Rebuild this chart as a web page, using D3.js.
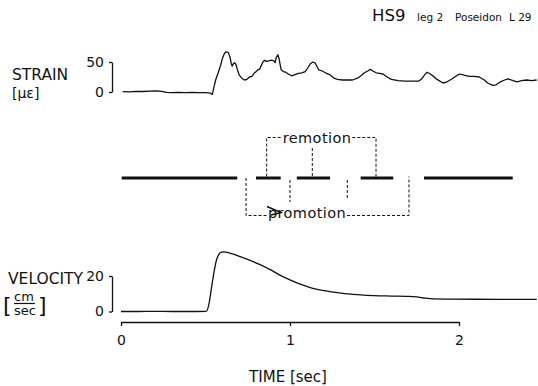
<!DOCTYPE html>
<html><head><meta charset="utf-8">
<script src="https://cdn.jsdelivr.net/npm/d3@7"></script>
<style>
body{margin:0;background:#fff}
svg{display:block}
text{font-family:"DejaVu Sans",sans-serif;fill:#111}
</style>
</head><body>
<svg id="c" width="538" height="386"></svg>
<script>
// ---- data ----
const strainT=[0.01,0.05,0.09,0.13,0.17,0.21,0.24,0.27,0.30,0.34,0.38,0.42,0.46,0.50,0.53,0.54,0.55,0.56,0.575,0.59,0.60,0.61,0.62,0.635,0.645,0.652,0.658,0.665,0.672,0.68,0.688,0.70,0.715,0.73,0.745,0.76,0.775,0.79,0.80,0.81,0.82,0.83,0.84,0.85,0.86,0.875,0.89,0.905,0.912,0.918,0.928,0.936,0.942,0.948,0.96,0.975,0.99,1.01,1.03,1.05,1.07,1.09,1.105,1.12,1.135,1.15,1.16,1.17,1.19,1.21,1.235,1.26,1.28,1.31,1.34,1.37,1.40,1.42,1.44,1.46,1.475,1.49,1.51,1.53,1.55,1.575,1.60,1.64,1.68,1.72,1.76,1.78,1.80,1.812,1.83,1.85,1.87,1.905,1.93,1.96,1.99,2.006,2.03,2.06,2.09,2.12,2.15,2.17,2.20,2.22,2.245,2.27,2.29,2.32,2.345,2.37,2.40,2.43,2.46];
const strainV=[0.5,0.3,1,0.8,1.5,1.8,1,-0.5,-1,-0.5,-1,-0.8,-1.2,-1,-2,-4,8,20,32,45,56,63,67,66,58,48,43,47,49,46,38,28,23,20,21,25,26,32,34,37,38,44,50,53,51,52,53,52,49,57,62,55,45,37,34,33,30,27,29,31,32,34,40,47,50,48,42,37,35,32,29,23,21,20,20,20,23,27,32,35,38,35,32,31,30,25,21,19,18,18,18,22,30,33,30,26,21,15,17,22,28,30,28,26,26,25,20,15,11,12,17,20,22,19,17,19,20,19,20];
const velT=[0,0.1,0.2,0.3,0.4,0.5,0.507,0.52,0.535,0.55,0.565,0.58,0.595,0.61,0.63,0.66,0.70,0.76,0.82,0.88,0.94,1.0,1.06,1.12,1.2,1.3,1.4,1.5,1.6,1.7,1.75,1.8,1.85,1.95,2.1,2.3,2.46];
const velV=[0,0,0.1,0,0,0.1,0.3,4,13,22,29,32.3,33.4,33.6,33.3,32.4,31,29,26.5,23.7,20.5,17.8,15.4,13.5,11.8,10.4,9.5,8.9,8.7,8.5,8.2,7.5,7.1,7,6.9,6.8,6.8];
const timeTicks=[0,1,2];
const strainTicks=[0,50];
const velTicks=[0,20];
const gaitStart=[0.004,0.799,1.040,1.418,1.793];
const gaitEnd=[0.688,0.945,1.237,1.611,2.318];
const remotionMarks=[0.862,1.132,1.509];
const promotionMarks=[0.740,1.0,1.339,1.704];

// ---- scales ----
const svg=d3.select("#c");
const x=d3.scaleLinear().domain([0,2]).range([121,459]);
const yS=d3.scaleLinear().domain([0,50]).range([92,62]);
const yV=d3.scaleLinear().domain([0,20]).range([311.5,276]);
const ink="#111";

// title
const title=[["HS9",372,16.5],["leg 2",417,10.5],["Poseidon",455,10.5],["L 29",509,10.5]];
title.forEach(d=>svg.append("text").attr("x",d[1]).attr("y",21).attr("font-size",d[2]).text(d[0]));

// strain
svg.append("text").attr("x",12).attr("y",80).attr("font-size",15.5).text("STRAIN");
svg.append("text").attr("x",12).attr("y",97.5).attr("font-size",14).text("[µε]");
const gS=svg.append("g").attr("transform","translate(112,0)")
  .call(d3.axisLeft(yS).tickValues(strainTicks).tickSize(3).tickSizeOuter(0).tickPadding(5));
const strainData=strainT.map((t,i)=>[t,strainV[i]]);
svg.append("path").datum(strainData)
  .attr("d",d3.line().x(d=>x(d[0])).y(d=>yS(d[1])))
  .attr("fill","none").attr("stroke",ink).attr("stroke-width",1.3).attr("stroke-linejoin","round");

// gait diagram
const yG=178;
svg.selectAll("line.bar").data(gaitStart).join("line").attr("class","bar")
  .attr("x1",d=>x(d)).attr("x2",(d,i)=>x(gaitEnd[i])).attr("y1",yG).attr("y2",yG)
  .attr("stroke",ink).attr("stroke-width",3);
const dash=sel=>sel.attr("fill","none").attr("stroke",ink).attr("stroke-width",1).attr("stroke-dasharray","3,2");

const yR=137.5;
const rem=svg.append("text").attr("x",317).attr("y",143).attr("font-size",14.5).attr("letter-spacing",0.4)
  .attr("text-anchor","middle").text("remotion");
const rw=rem.node().getComputedTextLength();
const r0=317-rw/2, r1=317+rw/2;
svg.append("path").attr("d",`M${x(remotionMarks[0])},${yG-1.5}V${yR}H${r0-2}`).call(dash);
svg.append("path").attr("d",`M${x(remotionMarks[1])},148V${yG-1.5}`).call(dash);
svg.append("path").attr("d",`M${r1+1},${yR}H${x(remotionMarks[2])}V${yG-1.5}`).call(dash);

const yP=215.5;
const pro=svg.append("text").attr("x",307).attr("y",218).attr("font-size",14.5).attr("letter-spacing",0.4)
  .attr("text-anchor","middle").text("promotion");
const pw=pro.node().getComputedTextLength();
const p0=307-pw/2, p1=307+pw/2;
svg.append("path").attr("d",`M${x(promotionMarks[0])},${yG}V${yP}H${p0-1}`).call(dash);
svg.append("path").attr("d",`M${x(promotionMarks[1])},180V202`).call(dash);
svg.append("path").attr("d",`M${x(promotionMarks[2])},180V200`).call(dash);
svg.append("path").attr("d",`M${p1+1},${yP}H${x(promotionMarks[3])}V${yG-1.5}`).call(dash);
svg.append("path").attr("d",`M${p0-1},206.5L${p0+13},212.5L${p0+3},215`)
  .attr("fill","none").attr("stroke",ink).attr("stroke-width",1.5);

// velocity
svg.append("text").attr("x",8).attr("y",284).attr("font-size",15.5).text("VELOCITY");
svg.append("text").attr("x",3).attr("y",313).attr("font-size",22).text("[");
svg.append("text").attr("x",14).attr("y",301).attr("font-size",13).text("cm");
svg.append("line").attr("x1",14).attr("x2",35).attr("y1",303.5).attr("y2",303.5).attr("stroke",ink).attr("stroke-width",1.2);
svg.append("text").attr("x",14).attr("y",315).attr("font-size",13).text("sec");
svg.append("text").attr("x",38).attr("y",313).attr("font-size",22).text("]");
const gV=svg.append("g").attr("transform","translate(112,0)")
  .call(d3.axisLeft(yV).tickValues(velTicks).tickSize(3).tickSizeOuter(0).tickPadding(5));
const velData=velT.map((t,i)=>[t,velV[i]]);
svg.append("path").datum(velData)
  .attr("d",d3.line().x(d=>x(d[0])).y(d=>yV(d[1])).curve(d3.curveMonotoneX))
  .attr("fill","none").attr("stroke",ink).attr("stroke-width",1.3);

// time axis
const gT=svg.append("g").attr("transform","translate(0,322)")
  .call(d3.axisBottom(x).tickValues(timeTicks).tickFormat(d3.format("d")).tickSize(4).tickSizeOuter(0).tickPadding(9));
svg.append("text").attr("x",288).attr("y",382).attr("font-size",15).attr("text-anchor","middle").text("TIME [sec]");

[gS,gV,gT].forEach(g=>{
  g.selectAll("path.domain").attr("stroke",ink).attr("stroke-width",1.3);
  g.selectAll(".tick line").attr("stroke",ink).attr("stroke-width",1.3);
  g.selectAll(".tick text").attr("font-size",14).attr("font-family","DejaVu Sans").attr("fill",ink);
});
</script>
</body></html>
